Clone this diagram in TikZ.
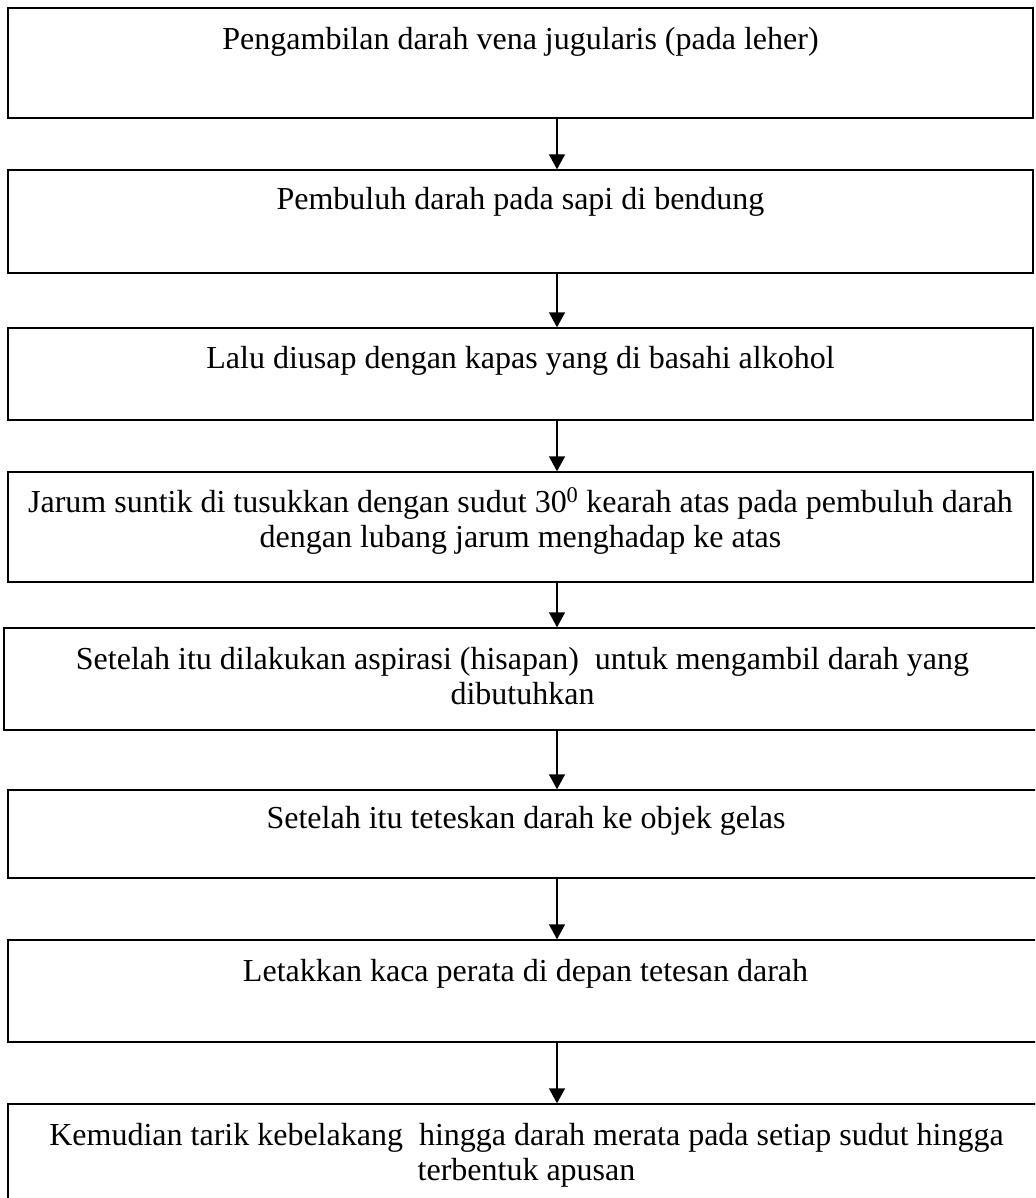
\documentclass[tikz,border=0pt]{standalone}
\usepackage{fontspec}
\setmainfont{Liberation Serif}
\usetikzlibrary{positioning, arrows.meta, calc}

\begin{document}
\begin{tikzpicture}[
        x=1pt, y=-1pt,
        stepbox/.style={
          draw,
          line width=1.4pt,
          inner sep=0pt
        },
        steptext/.style={
          align=center,
          anchor=base,
          inner sep=0pt,
          font=\fontsize{32}{35}\selectfont
        },
        flow/.style={-{Triangle[length=15pt,width=16pt]}, line width=1.4pt}
      ]
        \path[use as bounding box, clip] (0,0) rectangle (1035,1198);

        % boxes
        \node[stepbox, minimum width=1025pt, minimum height=110pt] (s1) at (520.5,63) {};
        \node[stepbox, minimum width=1025pt, minimum height=103pt] (s2) at (520.5,221.5) {};
        \node[stepbox, minimum width=1025pt, minimum height=92pt] (s3) at (520.5,374) {};
        \node[stepbox, minimum width=1025pt, minimum height=110pt] (s4) at (520.5,527) {};
        \node[stepbox, minimum width=1037pt, minimum height=102pt] (s5) at (522.5,679) {};
        \node[stepbox, minimum width=1036pt, minimum height=88pt] (s6) at (526,834) {};
        \node[stepbox, minimum width=1035pt, minimum height=102pt] (s7) at (525.5,991) {};
        \node[stepbox, minimum width=1037pt, minimum height=106pt] (s8) at (526.5,1157) {};

        % texts (two-line texts sit on the baseline of their last line)
        \node[steptext] (t1) at (520.5,50) {Pengambilan darah vena jugularis (pada leher)};
        \node[steptext] (t2) at (520.5,210) {Pembuluh darah pada sapi di bendung};
        \node[steptext] (t3) at (520.5,368) {Lalu diusap dengan kapas yang di basahi alkohol};
        \node[steptext] (t4) at (520.5,547) {Jarum suntik di tusukkan dengan sudut 30\textsuperscript{0} kearah atas pada pembuluh darah\\dengan lubang jarum menghadap ke atas};
        \node[steptext] (t5) at (522.5,704) {Setelah itu dilakukan aspirasi (hisapan)\ \ untuk mengambil darah yang\\dibutuhkan};
        \node[steptext] (t6) at (526,828) {Setelah itu teteskan darah ke objek gelas};
        \node[steptext] (t7) at (525.5,981) {Letakkan kaca perata di depan tetesan darah};
        \node[steptext] (t8) at (526.5,1180) {Kemudian tarik kebelakang\ \ hingga darah merata pada setiap sudut hingga\\terbentuk apusan};

        % arrows
        \coordinate (axis) at (557,0);
        \foreach \a/\b in {s1/s2, s2/s3, s3/s4, s4/s5, s5/s6, s6/s7, s7/s8}
          \draw[flow] (\a.south -| axis) -- (\b.north -| axis);
      \end{tikzpicture}
\end{document}
